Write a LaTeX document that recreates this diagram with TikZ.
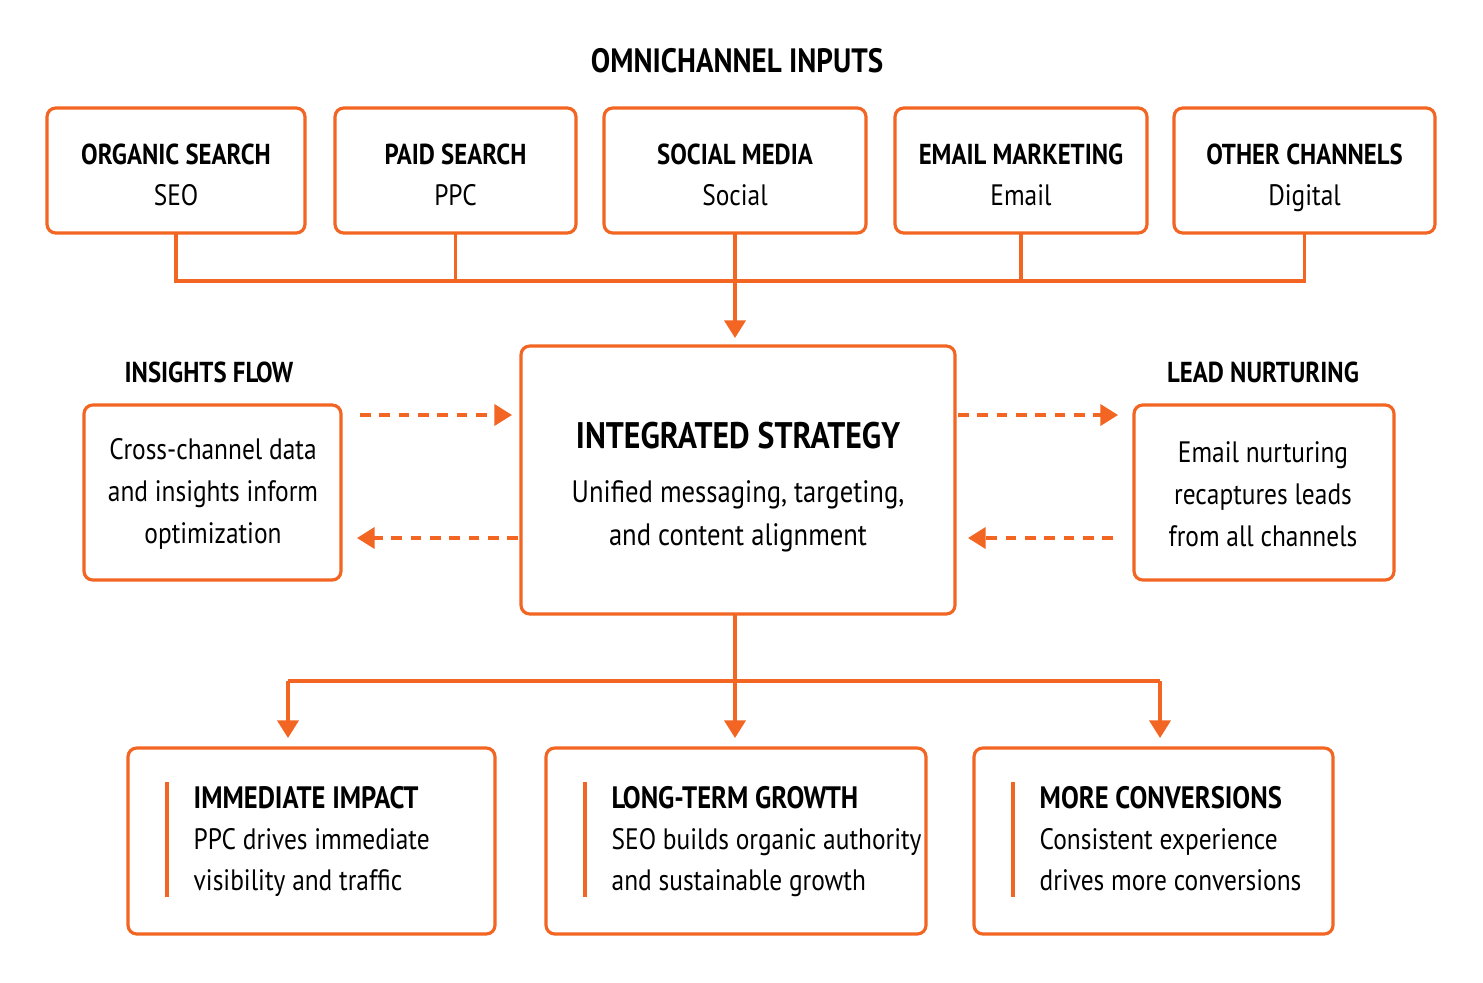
\documentclass[tikz,border=0pt]{standalone}
\usepackage{fontspec}
\setmainfont{PT Sans}[FakeStretch=0.86]
\usetikzlibrary{positioning,arrows.meta}
\definecolor{brand}{HTML}{F26522}
\tikzset{%
  box/.style={draw=brand,line width=0.9pt,rounded corners=2.5pt},
  flow/.style={draw=brand,line width=0.9pt},
  tip/.style={-{Triangle[length=5pt,width=6pt]}},
  loop/.style={flow,dash pattern=on 3pt off 2.5pt,-{Triangle[length=5pt,width=6pt]}},
  head/.style={font=\bfseries\fontsize{8.2}{10}\selectfont,anchor=base},
  body/.style={font=\fontsize{8.4}{12}\selectfont,align=center}
}
\begin{document}
\begin{tikzpicture}[x=0.01cm,y=-0.01cm]
    \useasboundingbox (0,0) rectangle (1483,982);
    \node[font=\bfseries\fontsize{9.6}{12}\selectfont] (title) at (737,61) {OMNICHANNEL INPUTS};

    % Input channels
    \foreach \name/\xa/\xb/\head/\sub in {seo/47/305/ORGANIC SEARCH/SEO, ppc/335/576/PAID SEARCH/PPC,
        soc/604/866/SOCIAL MEDIA/Social, mail/895/1147/EMAIL MARKETING/Email, other/1174/1435/OTHER CHANNELS/Digital}
        {
        \draw[box] (\xa,108) rectangle (\xb,233);
        \coordinate (\name) at ({(\xa+\xb)/2},233);
        \node[head] at ({(\xa+\xb)/2},165) {\head};
        \node[body,anchor=base] at ({(\xa+\xb)/2},205) {\sub};
        }
    \coordinate (busL) at (176,281);
    \coordinate (busR) at (1302,281);
    \draw[flow] (seo) -- (busL) -- (busR) -- (other |- busR) -- (other);
    \foreach \name in {ppc,mail}
        \draw[flow] (\name) -- (\name |- busL);

    % Strategy
    \draw[box] (521,346) rectangle (955,614);
    \coordinate (midT) at (735,338);
    \coordinate (midB) at (735,614);
    \draw[flow,tip] (soc) -- (midT);
    \node[font=\bfseries\fontsize{10.5}{13}\selectfont] (strat) at (738,436) {INTEGRATED STRATEGY};
    \node[body,font=\fontsize{8.8}{12.2}\selectfont] (stratsub) at (738,516) {Unified messaging, targeting,\\and content alignment};

    % Side loops
    \node[head] (insT) at (209,382) {INSIGHTS FLOW};
    \draw[box] (84,405) rectangle (341,580);
    \node[body] (ins) at (213,494) {Cross-channel data\\and insights inform\\optimization};
    \node[head] (leadT) at (1263,382) {LEAD NURTURING};
    \draw[box] (1134,405) rectangle (1394,580);
    \node[body] (lead) at (1263,494) {Email nurturing\\recaptures leads\\from all channels};
    \coordinate (a1) at (360,415); \coordinate (a2) at (512,415);
    \coordinate (b1) at (518,538); \coordinate (b2) at (357,538);
    \coordinate (c1) at (958,415); \coordinate (c2) at (1118,415);
    \coordinate (d1) at (1113,538); \coordinate (d2) at (968,538);
    \draw[loop] (a1) -- (a2);
    \draw[loop] (b1) -- (b2);
    \draw[loop] (c1) -- (c2);
    \draw[loop] (d1) -- (d2);

    % Outcomes
    \coordinate (outL) at (288,681);
    \coordinate (outR) at (1160,681);
    \draw[flow] (midB) -- (735,681);
    \draw[flow] (outL) -- (outR);
    \foreach \name/\xa/\xb/\head/\la/\lb in {imp/128/495/IMMEDIATE IMPACT/PPC drives immediate/visibility and traffic,
        grow/546/926/LONG-TERM GROWTH/SEO builds organic authority/and sustainable growth,
        conv/974/1333/MORE CONVERSIONS/Consistent experience/drives more conversions}
        {
        \draw[box] (\xa,748) rectangle (\xb,934);
        \draw[flow] (\xa+39,782) -- (\xa+39,897);
        \node[anchor=west,inner sep=0pt,font=\bfseries\fontsize{8.8}{11}\selectfont] (\name) at (\xa+65,798) {\head};
        \node[anchor=north west,inner sep=0pt,align=left,font=\fontsize{8.4}{11.6}\selectfont] at (\xa+65,828) {\la\\\lb};
        }
    \foreach \x in {288,735,1160}
        \draw[flow,tip] (\x,681) -- (\x,738);
\end{tikzpicture}
\end{document}
